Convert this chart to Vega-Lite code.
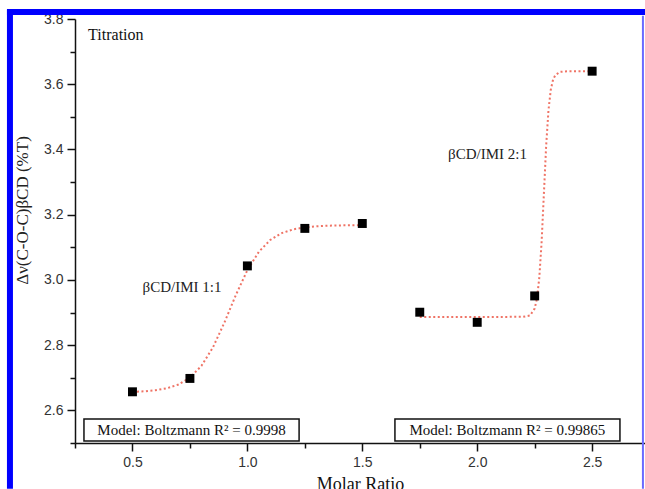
{
  "$schema": "https://vega.github.io/schema/vega-lite/v6.json",
  "width": 570,
  "height": 424,
  "autosize": "none",
  "padding": {"left": 75, "top": 19, "right": 0, "bottom": 46},
  "background": "white",
  "config": {"view": {"stroke": null}},
  "resolve": {"axis": {"x": "independent", "y": "independent"}},
  "datasets": {
    "points": [
      {"ratio": 0.5, "value": 2.657, "complex": "1:1"},
      {"ratio": 0.75, "value": 2.698, "complex": "1:1"},
      {"ratio": 1.0, "value": 3.043, "complex": "1:1"},
      {"ratio": 1.25, "value": 3.158, "complex": "1:1"},
      {"ratio": 1.5, "value": 3.173, "complex": "1:1"},
      {"ratio": 1.75, "value": 2.901, "complex": "2:1"},
      {"ratio": 2.0, "value": 2.870, "complex": "2:1"},
      {"ratio": 2.25, "value": 2.951, "complex": "2:1"},
      {"ratio": 2.5, "value": 3.640, "complex": "2:1"}
    ],
    "fit": [
      {"ratio": 0.5, "value": 2.6568, "complex": "1:1"},
      {"ratio": 0.55, "value": 2.6584, "complex": "1:1"},
      {"ratio": 0.6, "value": 2.6617, "complex": "1:1"},
      {"ratio": 0.65, "value": 2.6678, "complex": "1:1"},
      {"ratio": 0.7, "value": 2.6793, "complex": "1:1"},
      {"ratio": 0.75, "value": 2.7003, "complex": "1:1"},
      {"ratio": 0.8, "value": 2.7365, "complex": "1:1"},
      {"ratio": 0.85, "value": 2.7929, "complex": "1:1"},
      {"ratio": 0.9, "value": 2.8691, "complex": "1:1"},
      {"ratio": 0.95, "value": 2.9539, "complex": "1:1"},
      {"ratio": 1.0, "value": 3.0301, "complex": "1:1"},
      {"ratio": 1.05, "value": 3.0865, "complex": "1:1"},
      {"ratio": 1.1, "value": 3.1227, "complex": "1:1"},
      {"ratio": 1.15, "value": 3.1437, "complex": "1:1"},
      {"ratio": 1.2, "value": 3.1552, "complex": "1:1"},
      {"ratio": 1.25, "value": 3.1613, "complex": "1:1"},
      {"ratio": 1.3, "value": 3.1646, "complex": "1:1"},
      {"ratio": 1.35, "value": 3.1663, "complex": "1:1"},
      {"ratio": 1.4, "value": 3.1671, "complex": "1:1"},
      {"ratio": 1.45, "value": 3.1676, "complex": "1:1"},
      {"ratio": 1.5, "value": 3.1678, "complex": "1:1"},
      {"ratio": 1.75, "value": 2.886, "complex": "2:1"},
      {"ratio": 2.0, "value": 2.886, "complex": "2:1"},
      {"ratio": 2.2, "value": 2.887, "complex": "2:1"},
      {"ratio": 2.23, "value": 2.891, "complex": "2:1"},
      {"ratio": 2.25, "value": 2.912, "complex": "2:1"},
      {"ratio": 2.26, "value": 2.943, "complex": "2:1"},
      {"ratio": 2.27, "value": 3.006, "complex": "2:1"},
      {"ratio": 2.28, "value": 3.114, "complex": "2:1"},
      {"ratio": 2.29, "value": 3.263, "complex": "2:1"},
      {"ratio": 2.3, "value": 3.412, "complex": "2:1"},
      {"ratio": 2.31, "value": 3.520, "complex": "2:1"},
      {"ratio": 2.32, "value": 3.583, "complex": "2:1"},
      {"ratio": 2.33, "value": 3.614, "complex": "2:1"},
      {"ratio": 2.34, "value": 3.628, "complex": "2:1"},
      {"ratio": 2.36, "value": 3.638, "complex": "2:1"},
      {"ratio": 2.4, "value": 3.640, "complex": "2:1"},
      {"ratio": 2.5, "value": 3.640, "complex": "2:1"}
    ]
  },
  "layer": [
    {
      "data": {"name": "fit"},
      "mark": {"type": "line", "color": "#ec5a4a", "strokeWidth": 2, "strokeDash": [2, 2.5], "opacity": 0.85},
      "encoding": {
        "x": {"field": "ratio", "type": "quantitative", "scale": {"domain": [0.25, 2.73], "nice": false, "zero": false},
          "title": "Molar Ratio",
          "axis": {
            "orient": "bottom",
            "values": [0.5, 1.0, 1.5, 2.0, 2.5],
            "format": ".1f",
            "tickSize": 8,
            "grid": false, "domainColor": "#111", "domainWidth": 1.5, "tickColor": "#111", "tickWidth": 1.5,
            "labelFont": "Liberation Sans", "labelFontSize": 14, "labelColor": "#333", "labelPadding": 4,
            "titleFont": "Liberation Serif", "titleFontSize": 18, "titleFontWeight": "normal", "titleColor": "#111", "titlePadding": 6,
            "labelFlush": false, "labelOverlap": false
          }
        },
        "y": {"field": "value", "type": "quantitative", "scale": {"domain": [2.5, 3.8], "nice": false, "zero": false},
          "title": "Δν(C-O-C)βCD (%T)",
          "axis": {
            "orient": "left",
            "values": [2.6, 2.8, 3.0, 3.2, 3.4, 3.6, 3.8],
            "format": ".1f",
            "tickSize": 8,
            "grid": false, "domainColor": "#111", "domainWidth": 1.5, "tickColor": "#111", "tickWidth": 1.5,
            "labelFont": "Liberation Sans", "labelFontSize": 14, "labelColor": "#333", "labelPadding": 4,
            "titleFont": "Liberation Serif", "titleFontSize": 17, "titleFontWeight": "normal", "titleColor": "#222",
            "titleX": -53, "titleY": 191, "titleAlign": "center", "titleBaseline": "middle", "titleAngle": -90,
            "labelFlush": false, "labelOverlap": false
          }
        },
        "detail": {"field": "complex"}
      }
    },
    {
      "data": {"name": "points"},
      "mark": {"type": "point", "shape": "square", "filled": true, "color": "#000", "size": 80, "opacity": 1},
      "encoding": {
        "x": {"field": "ratio", "type": "quantitative", "title": null,
          "axis": {"orient": "bottom", "values": [0.25, 0.75, 1.25, 1.75, 2.25], "labels": false, "domain": false, "grid": false, "tickSize": 5, "tickColor": "#111", "tickWidth": 1.5}},
        "y": {"field": "value", "type": "quantitative", "title": null,
          "axis": {"orient": "left", "values": [2.5, 2.7, 2.9, 3.1, 3.3, 3.5, 3.7], "labels": false, "domain": false, "grid": false, "tickSize": 5, "tickColor": "#111", "tickWidth": 1.5}}
      }
    },
    {
      "data": {"values": [{"label": "Model: Boltzmann R² = 0.9998", "x1": 0.289, "x2": 1.225, "cx": 0.757}, {"label": "Model: Boltzmann R² = 0.99865", "x1": 1.642, "x2": 2.621, "cx": 2.131}]},
      "layer": [
        {
          "mark": {"type": "rect", "fill": "white", "stroke": "#111", "strokeWidth": 1.5},
          "encoding": {
            "x": {"field": "x1", "type": "quantitative", "axis": null},
            "x2": {"field": "x2"},
            "y": {"datum": 2.5736, "type": "quantitative", "axis": null},
            "y2": {"datum": 2.506}
          }
        },
        {
          "mark": {"type": "text", "font": "Liberation Serif", "fontSize": 15, "color": "#111", "align": "center", "baseline": "middle"},
          "encoding": {
            "x": {"field": "cx", "type": "quantitative", "axis": null},
            "y": {"datum": 2.54, "type": "quantitative", "axis": null},
            "text": {"field": "label"}
          }
        }
      ]
    },
    {
      "data": {"values": [
        {"label": "Titration", "x": 0.307, "y": 3.751, "a": "left"},
        {"label": "βCD/IMI 1:1", "x": 0.7155, "y": 2.978, "a": "center"},
        {"label": "βCD/IMI 2:1", "x": 2.045, "y": 3.386, "a": "center"}
      ]},
      "layer": [
        {
          "transform": [{"filter": "datum.a == 'left'"}],
          "mark": {"type": "text", "font": "Liberation Serif", "fontSize": 16, "color": "#111", "align": "left", "baseline": "middle"},
          "encoding": {
            "x": {"field": "x", "type": "quantitative", "axis": null},
            "y": {"field": "y", "type": "quantitative", "axis": null},
            "text": {"field": "label"}
          }
        },
        {
          "transform": [{"filter": "datum.a == 'center'"}],
          "mark": {"type": "text", "font": "Liberation Serif", "fontSize": 15, "color": "#222", "align": "center", "baseline": "middle"},
          "encoding": {
            "x": {"field": "x", "type": "quantitative", "axis": null},
            "y": {"field": "y", "type": "quantitative", "axis": null},
            "text": {"field": "label"}
          }
        }
      ]
    },
    {
      "data": {"values": [{}]},
      "layer": [
        {
          "mark": {"type": "rule", "color": "#0000ff", "strokeWidth": 6, "clip": false},
          "encoding": {
            "x": {"datum": -0.033, "type": "quantitative", "axis": null},
            "y": {"datum": 3.828, "type": "quantitative", "axis": null},
            "y2": {"datum": 2.36}
          }
        },
        {
          "mark": {"type": "rule", "color": "#0000ff", "strokeWidth": 6, "clip": false},
          "encoding": {
            "x": {"datum": -0.046, "type": "quantitative", "axis": null},
            "x2": {"datum": 2.75},
            "y": {"datum": 3.8214, "type": "quantitative", "axis": null}
          }
        },
        {
          "mark": {"type": "rule", "color": "#6a6aff", "strokeWidth": 2, "clip": false},
          "encoding": {
            "x": {"datum": 2.721, "type": "quantitative", "axis": null},
            "y": {"datum": 3.81, "type": "quantitative", "axis": null},
            "y2": {"datum": 2.36}
          }
        }
      ]
    }
  ]
}
